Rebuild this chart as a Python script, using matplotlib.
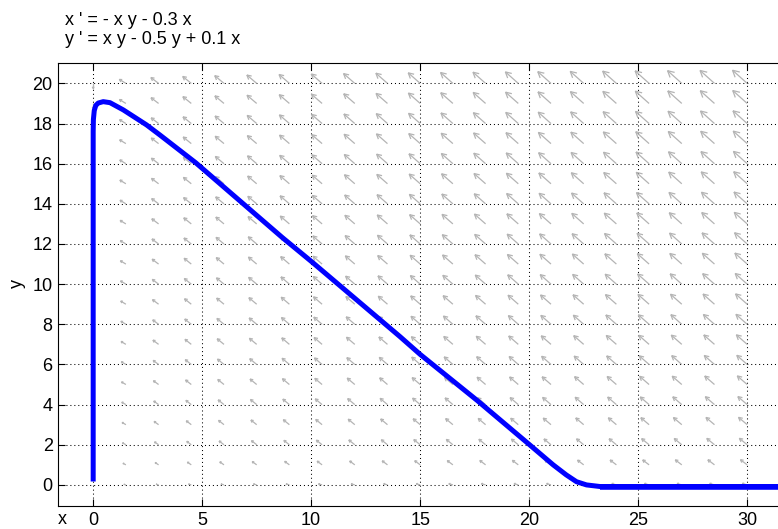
import numpy as np
import matplotlib
matplotlib.use("Agg")
import matplotlib.pyplot as plt
from matplotlib.collections import LineCollection

plt.rcParams['font.family'] = ['Liberation Sans', 'DejaVu Sans']

# system shown in the title: x' = -x y - 0.3 x ; y' = x y - 0.5 y + 0.1 x
eq_lines = ["x ' = - x y - 0.3 x", "y ' = x y - 0.5 y + 0.1 x"]
cx = [-1.0, -0.3]          # x' = cx[0]*x*y + cx[1]*x
cy = [1.0, -0.5, 0.1]      # y' = cy[0]*x*y + cy[1]*y + cy[2]*x

# direction field grid
field_x = np.linspace(0, 30, 21)
field_y = np.linspace(0, 20, 21)

# trajectory
traj_x = [0, 0, 0, 0.01, 0.05, 0.12, 0.23, 0.46, 0.77, 1.38, 2.45, 3.06,
          4.7, 8.7, 10.02, 14.07, 15.0, 17.6, 20.03, 21.1, 21.7, 22.17,
          22.63, 23.25, 31.5]
traj_y = [0.17, 10, 17.6, 18.2, 18.65, 18.9, 19.02, 19.09, 19.04, 18.68,
          17.93, 17.43, 16.05, 12.3, 11.12, 7.39, 6.5, 4.22, 1.99, 1.0,
          0.5, 0.16, 0.0, -0.08, -0.08]
flat_x = [23.25, 31.5]
flat_y = [-0.12, -0.12]

xticks = [0, 5, 10, 15, 20, 25, 30]
yticks = [0, 2, 4, 6, 8, 10, 12, 14, 16, 18, 20]

W, H = 778, 529
fig = plt.figure(figsize=(W / 100, H / 100), dpi=100)
left, top, bottom = 58.3, 62.7, 506
ax = fig.add_axes([left / W, 1 - bottom / H, 1 - left / W, (bottom - top) / H])
ax.set_xlim(-1.6, -1.6 + (W - left) / 21.8)
ax.set_ylim(-1.05, 21.03)

ax.set_xticks(xticks)
ax.set_yticks(yticks)
ax.tick_params(direction='in', length=5, width=0.8, top=True, right=False,
               labelsize=13, colors='k')
ax.tick_params(axis='x', pad=4)
ax.tick_params(axis='y', pad=4)
ax.spines['right'].set_visible(False)
for s in ['left', 'top', 'bottom']:
    ax.spines[s].set_linewidth(0.8)
ax.grid(True, color='k', linestyle=(0, (1, 2.8)), linewidth=0.75)
ax.set_axisbelow(True)

# direction field arrows, length ~ |v|^0.3 in pixels
X, Y = np.meshgrid(field_x, field_y)
U = cx[0] * X * Y + cx[1] * X
V = cy[0] * X * Y + cy[1] * Y + cy[2] * X
mag = np.hypot(U, V)
tr = ax.transData
o = tr.transform((0, 0))
sx = tr.transform((1, 0))[0] - o[0]
sy = tr.transform((0, 1))[1] - o[1]
segs = []
ang = np.deg2rad(28)
for xi, yi, u, v, m in zip(X.ravel(), Y.ravel(), U.ravel(), V.ravel(), mag.ravel()):
    if m == 0:
        continue
    L = 2.6 * m ** 0.3
    d = np.array([u * sx, v * sy])
    d = d / np.hypot(*d)
    p0 = tr.transform((xi, yi))
    p1 = p0 + L * d
    b = 0.38 * L
    r1 = np.array([d[0] * np.cos(ang) - d[1] * np.sin(ang), d[0] * np.sin(ang) + d[1] * np.cos(ang)])
    r2 = np.array([d[0] * np.cos(-ang) - d[1] * np.sin(-ang), d[0] * np.sin(-ang) + d[1] * np.cos(-ang)])
    pts = tr.inverted().transform([p0, p1, p1 - b * r1, p1 - b * r2])
    segs.append([pts[0], pts[1]])
    segs.append([pts[1], pts[2]])
    segs.append([pts[1], pts[3]])
ax.add_collection(LineCollection(segs, colors='#b4b4b4', linewidths=0.9, zorder=1.5))

ax.plot(traj_x, traj_y, color='#0000ff', lw=3.6, solid_capstyle='butt',
        solid_joinstyle='round', zorder=3)
ax.plot(flat_x, flat_y, color='#0000ff', lw=4.0, solid_capstyle='butt', zorder=3)

fig.text(65 / W, 1 - 25 / H, eq_lines[0], fontsize=13, va='baseline', ha='left')
fig.text(65 / W, 1 - 44 / H, eq_lines[1], fontsize=13, va='baseline', ha='left')
fig.text(17 / W, 1 - 284 / H, 'y', fontsize=13, rotation=90, ha='center', va='center')
fig.text(62 / W, 1 - 528 / H, 'x', fontsize=13, ha='center', va='bottom')

fig.savefig('out.png', dpi=100)
